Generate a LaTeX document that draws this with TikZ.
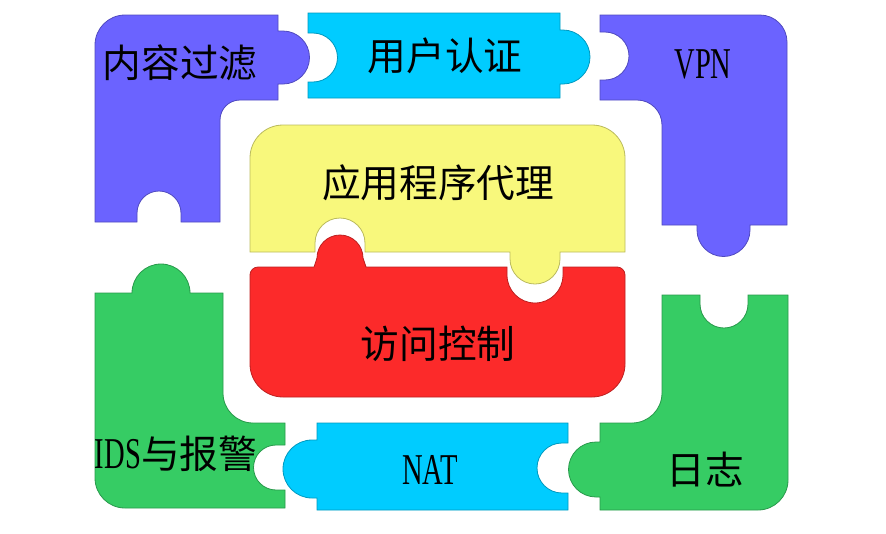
\documentclass[tikz,border=0pt]{standalone}
\usepackage{fontspec}
\setmainfont{Liberation Serif}[FakeStretch=0.65]
\newfontfamily\cjk{Noto Sans CJK SC}
\definecolor{pcpurple}{RGB}{107,99,255}
\definecolor{pccyan}{RGB}{0,204,255}
\definecolor{pcyellow}{RGB}{248,248,124}
\definecolor{pcred}{RGB}{252,42,42}
\definecolor{pcgreen}{RGB}{54,204,100}
\tikzset{
  piece/.style={fill=#1,draw=#1!75!black,line width=0.6pt},
  lbl/.style={font=\fontsize{29}{31}\selectfont,inner sep=0pt},
  lat/.style={font=\fontsize{33}{35}\selectfont,inner sep=0pt}
}
\begin{document}
\begin{tikzpicture}[x=0.75pt,y=0.75pt]
        \useasboundingbox (0,0) rectangle (886,-533);
        %% Top row
        \draw[piece=pcpurple] (125,-15) -- (278,-15) -- (278,-31) -- (283,-31) arc(90:-90:26.5) -- (278,-84) -- (278,-100) -- (240,-100) arc(90:180:20) -- (220,-222) -- (181,-222) -- (181,-213) arc(0:180:22) -- (137,-222) -- (95,-222) -- (95,-45) arc(180:90:30) -- cycle;
        \draw[piece=pccyan] (308,-13) -- (560,-13) -- (560,-30) -- (563,-30) arc(90:-90:27) -- (560,-84) -- (560,-98) -- (308,-98) -- (308,-82) -- (313,-82) arc(-90:90:24.5) -- (308,-33) -- cycle;
        \draw[piece=pcpurple] (600,-15) -- (760,-15) arc(90:0:27) -- (787,-225) -- (750,-225) -- (750,-230) arc(0:-180:26.5) -- (697,-225) -- (662,-225) -- (662,-125) arc(0:90:25) -- (600,-100) -- (600,-80) -- (605,-80) arc(-90:90:24) -- (600,-32) -- cycle;
        %% Middle
        \draw[piece=pcyellow] (283,-125) -- (592,-125) arc(90:0:33) -- (625,-252) -- (560,-252) -- (560,-259) arc(0:-180:25) -- (510,-252) -- (365,-252) -- (365,-243) arc(0:180:25) -- (315,-252) -- (250,-252) -- (250,-158) arc(180:90:33) -- cycle;
        \draw[piece=pcred] (250,-275) arc(180:90:8) -- (314,-267) -- (317,-258) arc(180:0:23) -- (366,-267) -- (507,-267) -- (507,-275) arc(180:360:28) -- (563,-267) -- (617,-267) arc(90:0:8) -- (625,-364) arc(0:-90:33) -- (283,-397) arc(270:180:33) -- cycle;
        %% Bottom row
        \draw[piece=pcgreen] (95,-293) -- (132,-293) arc(180:0:29) -- (223,-293) -- (223,-393) arc(180:270:30) -- (285,-423) -- (285,-445) -- (276,-445) arc(90:270:22.5) -- (285,-490) -- (285,-508) -- (125,-508) arc(270:180:30) -- cycle;
        \draw[piece=pccyan] (317,-423) -- (568,-423) -- (568,-443) -- (562,-443) arc(90:270:25) -- (568,-493) -- (568,-510) -- (317,-510) -- (317,-498) -- (312,-498) arc(270:90:29) -- (317,-440) -- cycle;
        \draw[piece=pcgreen] (662,-295) -- (700,-295) -- (700,-304) arc(180:360:24) -- (748,-295) -- (788,-295) -- (788,-480) arc(0:-90:30) -- (600,-510) -- (600,-497) -- (596,-497) arc(270:90:27.5) -- (600,-442) -- (600,-423) -- (632,-423) arc(270:360:30) -- cycle;
        %% Labels
        \node[lbl] (content) at (180,-63) {\cjk 内容过滤};
        \node[lbl] (auth) at (445,-56) {\cjk 用户认证};
        \node[lat] (vpn) at (703,-64) {VPN};
        \node[lbl] (proxy) at (438,-183) {\cjk 应用程序代理};
        \node[lbl] (access) at (438,-344) {\cjk 访问控制};
        \node[lat] (ids) at (176,-454) {IDS{\cjk\fontsize{29}{31}\selectfont 与报警}};
        \node[lat] (nat) at (430,-470) {NAT};
        \node[lbl] (log) at (705,-470) {\cjk 日志};
\end{tikzpicture}
\end{document}
